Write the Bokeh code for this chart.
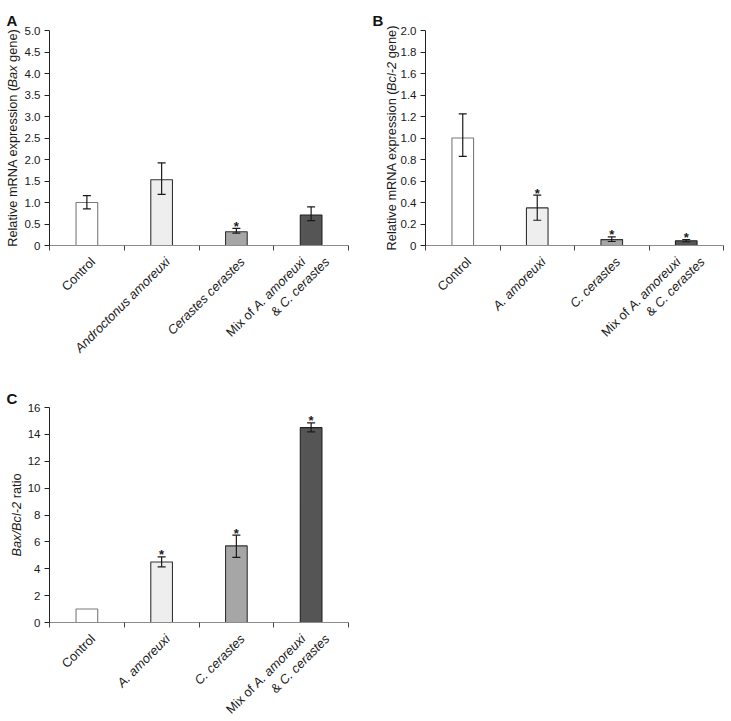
import math
from bokeh.plotting import figure
from bokeh.layouts import column, row
from bokeh.models import (Range1d, FixedTicker, Label, Whisker, TeeHead,
                          ColumnDataSource, CustomJSTickFormatter)
from bokeh.core.properties import value
from bokeh.embed import file_html
from bokeh.resources import INLINE

FONT = "Liberation Sans"

# ---------------- data ----------------
categories = ["Control", "A. amoreuxi", "C. cerastes", "Mix of A. amoreuxi & C. cerastes"]

bax_mean = [1.0, 1.53, 0.32, 0.71]
bax_low = [0.85, 1.19, 0.29, 0.58]
bax_high = [1.16, 1.92, 0.40, 0.90]
bax_sig = [False, False, True, False]

bcl2_mean = [1.0, 0.35, 0.055, 0.044]
bcl2_low = [0.83, 0.235, 0.037, 0.035]
bcl2_high = [1.225, 0.468, 0.08, 0.056]
bcl2_sig = [False, True, True, True]

ratio_mean = [1.0, 4.5, 5.7, 14.5]
ratio_low = [None, 4.14, 4.84, 14.18]
ratio_high = [None, 4.88, 6.5, 14.85]
ratio_sig = [False, True, True, True]

yticks_A = [0, 0.5, 1.0, 1.5, 2.0, 2.5, 3.0, 3.5, 4.0, 4.5, 5.0]
yticks_B = [0, 0.2, 0.4, 0.6, 0.8, 1.0, 1.2, 1.4, 1.6, 1.8, 2.0]
yticks_C = [0, 2, 4, 6, 8, 10, 12, 14, 16]

# category tick labels: lines of (text, italic) pieces
xlabels_A = [
    [[("Control", False)]],
    [[("Androctonus amoreuxi", True)]],
    [[("Cerastes cerastes", True)]],
    [[("Mix of ", False), ("A. amoreuxi", True)], [("& ", False), ("C. cerastes", True)]],
]
xlabels_BC = [
    [[("Control", False)]],
    [[("A. amoreuxi", True)]],
    [[("C. cerastes", True)]],
    [[("Mix of ", False), ("A. amoreuxi", True)], [("& ", False), ("C. cerastes", True)]],
]
ytitle_A = [("Relative mRNA expression (", False), ("Bax", True), (" gene)", False)]
ytitle_B = [("Relative mRNA expression (", False), ("Bcl-2", True), (" gene)", False)]
ytitle_C = [("Bax/Bcl-2", True), (" ratio", False)]

bar_fill = ["#ffffff", "#eeeeee", "#a6a6a6", "#555555"]
bar_line = ["#7a7a7a", "#333333", "#333333", "#222222"]

# ---------------- helpers ----------------
_W = {' ': 278, '(': 333, ')': 333, '-': 333, '.': 278, '/': 278, '&': 667, '*': 389,
      'A': 667, 'B': 667, 'C': 722, 'M': 833, 'R': 667, 'N': 722,
      'a': 556, 'b': 556, 'c': 500, 'd': 556, 'e': 556, 'f': 278, 'g': 556, 'i': 222,
      'l': 222, 'm': 833, 'n': 556, 'o': 556, 'p': 556, 'r': 333, 's': 500, 't': 278,
      'u': 556, 'v': 500, 'x': 500, 'y': 500}


def tw(s, size):
    return sum(_W.get(ch, 556) for ch in s) * size / 1000.0


LBL_SIZE = 12.8
C45 = math.cos(math.pi / 4)


def make_panel(letter, means, lows, highs, sigs, yticks, ymax, xlabels, ytitle,
               fig_w, fig_h, x0, x4, ytop, y0, title_dx, letter_x, letter_dy, fmt):
    ppx = (x4 - x0) / 4.0
    ppy = (y0 - ytop) / float(ymax)
    p = figure(width=fig_w, height=fig_h,
               x_range=Range1d(-x0 / ppx, (fig_w - x0) / ppx),
               y_range=Range1d(-(fig_h - y0) / ppy, ymax + ytop / ppy),
               output_backend="svg", toolbar_location=None, tools="")
    p.min_border = 0
    p.min_border_left = 0
    p.min_border_right = 0
    p.min_border_top = 0
    p.min_border_bottom = 0
    p.outline_line_color = None
    p.grid.visible = False
    p.background_fill_color = "white"
    p.border_fill_color = "white"

    xs = [i + 0.5 for i in range(len(categories))]
    src = ColumnDataSource(dict(x=xs, top=means, fill=bar_fill, line=bar_line))
    p.vbar(x="x", top="top", bottom=0, width=0.29, fill_color="fill", line_color="line",
           line_width=1.1, source=src)

    ex, elo, ehi = [], [], []
    for x, lo, hi in zip(xs, lows, highs):
        if lo is not None and hi is not None:
            ex.append(x); elo.append(lo); ehi.append(hi)
    esrc = ColumnDataSource(dict(x=ex, lower=elo, upper=ehi))
    w = Whisker(base="x", lower="lower", upper="upper", source=esrc, level="annotation",
                line_color="#1a1a1a", line_width=1.2,
                upper_head=TeeHead(size=8, line_color="#1a1a1a", line_width=1.2),
                lower_head=TeeHead(size=8, line_color="#1a1a1a", line_width=1.2))
    p.add_layout(w)

    sx, sy = [], []
    for x, m, hi, s in zip(xs, means, highs, sigs):
        if s:
            top = hi if hi is not None else m
            sx.append(x); sy.append(top + 2.0 / ppy)
    p.text(x=sx, y=sy, text=["*"] * len(sx), text_align="center", text_baseline="alphabetic",
           text_font=value(FONT), text_font_size="13px", text_font_style="bold",
           text_color="#1a1a1a")

    # axes (placed at data origin, the frame covers the whole panel)
    xa = p.xaxis[0]
    xa.fixed_location = 0
    xa.bounds = (0, 4)
    xa.ticker = FixedTicker(ticks=[0, 1, 2, 3, 4])
    xa.formatter = CustomJSTickFormatter(code="return '';")
    xa.axis_line_color = "#8c8c8c"
    xa.axis_line_width = 1.2
    xa.major_tick_line_color = "#444444"
    xa.major_tick_out = 5
    xa.major_tick_in = 0
    xa.minor_tick_line_color = None

    ya = p.yaxis[0]
    ya.fixed_location = 0
    ya.bounds = (0, ymax)
    ya.ticker = FixedTicker(ticks=yticks)
    ya.formatter = CustomJSTickFormatter(code=fmt)
    ya.major_label_text_font = FONT
    ya.major_label_text_font_size = "11.5px"
    ya.major_label_text_color = "#1a1a1a"
    ya.major_label_standoff = 4
    ya.axis_line_color = "#222222"
    ya.major_tick_line_color = "#222222"
    ya.major_tick_out = 5
    ya.major_tick_in = 0
    ya.minor_tick_line_color = None

    # category labels (rotated 45 degrees, right end anchored)
    for i, lines in enumerate(xlabels):
        cx = xs[i]
        dxs = [6] if len(lines) == 1 else [-8, 16]
        dy = 14
        for line, dx in zip(lines, dxs):
            rx, ry = dx, dy  # right end, screen px relative to (category centre, axis)
            for text, ital in reversed(line):
                full = tw(text, LBL_SIZE)
                stripped = text.rstrip()
                trail = full - tw(stripped, LBL_SIZE)
                ax = rx - C45 * trail
                ay = ry + C45 * trail
                p.add_layout(Label(x=cx + ax / ppx, y=-ay / ppy, text=stripped.strip(),
                                   angle=math.pi / 4, text_align="right",
                                   text_baseline="middle", text_font=FONT,
                                   text_font_size="%gpx" % LBL_SIZE,
                                   text_font_style="italic" if ital else "normal",
                                   text_color="#1a1a1a"))
                rx -= C45 * full
                ry += C45 * full

    # y title (rotated 90 degrees)
    total = sum(tw(t, LBL_SIZE) for t, _ in ytitle)
    start = ymax / 2.0 - (total / 2.0) / ppy
    for text, ital in ytitle:
        full = tw(text, LBL_SIZE)
        lead = full - tw(text.lstrip(), LBL_SIZE)
        p.add_layout(Label(x=title_dx / ppx, y=start + lead / ppy, text=text.strip(),
                           angle=math.pi / 2, text_align="left", text_baseline="middle",
                           text_font=FONT, text_font_size="%gpx" % LBL_SIZE,
                           text_font_style="italic" if ital else "normal",
                           text_color="#1a1a1a"))
        start += full / ppy

    # panel letter
    p.add_layout(Label(x=(letter_x - x0) / ppx, y=ymax + letter_dy / ppy, text=letter,
                       text_align="left", text_baseline="alphabetic", text_font=FONT,
                       text_font_size="15px", text_font_style="bold", text_color="#111111"))
    return p


fmt1 = "return tick == 0 ? '0' : tick.toFixed(1);"
fmt0 = "return tick.toFixed(0);"

pA = make_panel("A", bax_mean, bax_low, bax_high, bax_sig, yticks_A, 5.0, xlabels_A, ytitle_A,
                365, 360, 49, 348, 30, 245, -37, 6, 10, fmt1)
pB = make_panel("B", bcl2_mean, bcl2_low, bcl2_high, bcl2_sig, yticks_B, 2.0, xlabels_BC, ytitle_B,
                366, 360, 60, 358, 30, 245, -34, 7, 10, fmt1)
pC = make_panel("C", ratio_mean, ratio_low, ratio_high, ratio_sig, yticks_C, 16, xlabels_BC, ytitle_C,
                365, 361, 49, 348, 47, 262, -33, 6, 9, fmt0)

layout = column(row(pA, pB), pC)
open("out.html", "w").write(file_html(layout, INLINE))
